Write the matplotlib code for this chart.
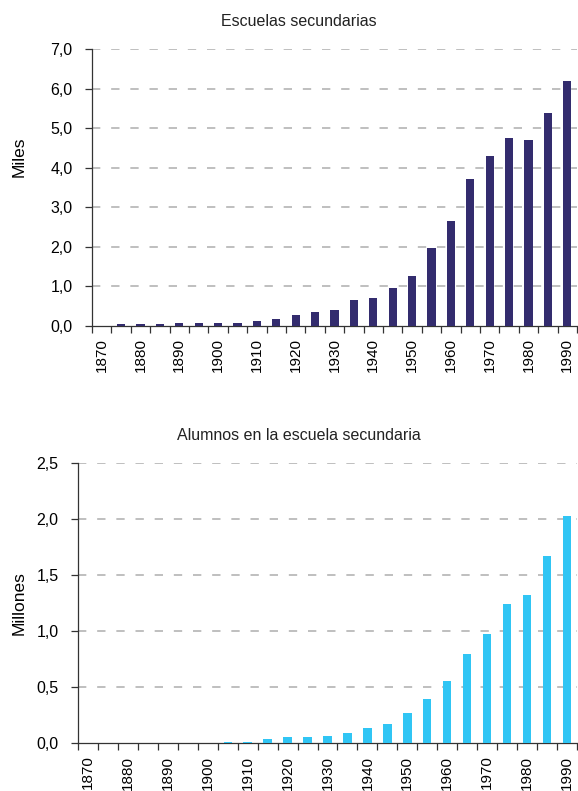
import numpy as np
import matplotlib

matplotlib.use("Agg")

import matplotlib.pyplot as plt
from matplotlib.ticker import FuncFormatter, FixedLocator

plt.rcParams["font.family"] = ["Liberation Sans", "DejaVu Sans"]

# Years, one category every 5 years.
years = list(range(1870, 1995, 5))

# Escuelas secundarias (miles)
escuelas = [0.0, 0.05, 0.05, 0.05, 0.07, 0.07, 0.07, 0.07, 0.12, 0.17,
            0.27, 0.35, 0.40, 0.645, 0.72, 0.97, 1.27, 1.98, 2.66, 3.71,
            4.29, 4.74, 4.71, 5.39, 6.20]

# Alumnos en la escuela secundaria (millones)
alumnos = [0.0, 0.0, 0.0, 0.0, 0.0, 0.0, 0.0, 0.012, 0.012, 0.036,
           0.054, 0.054, 0.0625, 0.089, 0.134, 0.17, 0.27, 0.39, 0.55, 0.795,
           0.97, 1.24, 1.32, 1.67, 2.03]

W, H = 578, 791
fig = plt.figure(figsize=(W / 100, H / 100), dpi=100)


def make_panel(rect, values, color, title, title_y, ylabel, ylabel_y, ymax, ystep):
    ax = fig.add_axes(rect)
    x = np.arange(len(years))
    ax.bar(x, values, width=0.42, color=color, zorder=3)
    ax.set_xlim(-0.5, len(years) - 0.5)
    ax.set_ylim(0, ymax)

    yt = np.arange(0, ymax + ystep / 2, ystep)
    ax.set_yticks(yt)
    ax.yaxis.set_major_formatter(FuncFormatter(lambda v, p: f"{v:.1f}".replace(".", ",")))
    for v in yt[1:]:
        ax.axhline(v, color="#b4b4b4", lw=1.2, ls=(0, (5, 6.5)), zorder=1)

    # labels every 10 years at category centres, ticks between categories
    ax.xaxis.set_major_locator(FixedLocator(x[::2]))
    ax.set_xticklabels([str(y) for y in years[::2]], rotation=90)
    ax.xaxis.set_minor_locator(FixedLocator(np.arange(-0.5, len(years), 1.0)))
    ax.tick_params(axis="x", which="major", length=0, pad=9, labelsize=11)
    ax.tick_params(axis="x", which="minor", length=5, width=0.9, color="#333333")
    ax.tick_params(axis="y", length=5, width=0.9, color="#333333", labelsize=11.5, pad=9)

    for s in ("top", "right"):
        ax.spines[s].set_visible(False)
    for s in ("left", "bottom"):
        ax.spines[s].set_color("#333333")
        ax.spines[s].set_linewidth(0.9)

    fig.text(299 / W, 1 - title_y / H, title, fontsize=11.5, color="#222222",
             ha="center", va="center")
    fig.text(19 / W, 1 - ylabel_y / H, ylabel, rotation=90,
             fontsize=12.5, ha="center", va="center")
    return ax


# rects in figure fraction (left, bottom, width, height)
top_rect = (92 / W, 1 - 326 / H, 485 / W, 277 / H)
bot_rect = (78 / W, 1 - 743 / H, 499 / W, 280 / H)

make_panel(top_rect, escuelas, "#332c6e", "Escuelas secundarias", 21,
           "Miles", 157, 7.0, 1.0)
make_panel(bot_rect, alumnos, "#30c5f4", "Alumnos en la escuela secundaria", 436,
           "Millones", 603, 2.5, 0.5)

fig.savefig("out.png", dpi=100)
